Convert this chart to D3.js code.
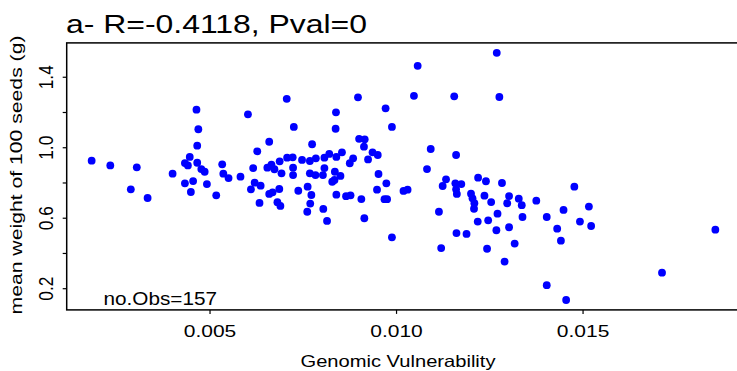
<!DOCTYPE html>
<html>
<head>
<meta charset="utf-8">
<script src="https://cdn.jsdelivr.net/npm/d3@7/dist/d3.min.js"></script>
<style>
  html, body { margin: 0; padding: 0; background: #fff; }
  svg { display: block; }
  text { font-family: "Liberation Sans", Arial, Helvetica, sans-serif; fill: #000; }
</style>
</head>
<body>
<svg id="chart" width="737" height="371"></svg>
<script>
// Genomic vulnerability (x) against mean weight of 100 seeds (y), one point per observation
const genomicVulnerability = [
  0.00184, 0.00234, 0.00305, 0.00289, 0.00334, 0.00401, 0.00465, 0.00470, 0.00467, 0.00447,
  0.00434, 0.00442, 0.00467, 0.00478, 0.00487, 0.00456, 0.00434, 0.00450, 0.00493, 0.00518,
  0.00534, 0.00537, 0.00551, 0.00583, 0.00603, 0.00628, 0.00617, 0.00621, 0.00611, 0.00634,
  0.00637, 0.00707, 0.00726, 0.00660, 0.00775, 0.00655, 0.00666, 0.00674, 0.00688, 0.00693,
  0.00708, 0.00723, 0.00724, 0.00724, 0.00687, 0.00660, 0.00669, 0.00682, 0.00690, 0.00738,
  0.00748, 0.00769, 0.00785, 0.00769, 0.00784, 0.00804, 0.00763, 0.00773, 0.00770, 0.00762,
  0.00805, 0.00815, 0.00808, 0.00808, 0.00821, 0.00840, 0.00855, 0.00839, 0.00838, 0.00836,
  0.00829, 0.00835, 0.00851, 0.00840, 0.00866, 0.00878, 0.00876, 0.00885, 0.00898, 0.00901,
  0.00916, 0.00914, 0.00925, 0.00937, 0.00951, 0.00907, 0.00915, 0.00953, 0.00949, 0.00974,
  0.00969, 0.00976, 0.00972, 0.00989, 0.00989, 0.01020, 0.01031, 0.01058, 0.01048, 0.01093,
  0.01083, 0.01134, 0.01125, 0.01115, 0.01121, 0.01270, 0.01156, 0.01277, 0.01161, 0.01159,
  0.01175, 0.01161, 0.01163, 0.01220, 0.01241, 0.01284, 0.01201, 0.01205, 0.01210, 0.01209,
  0.01237, 0.01255, 0.01303, 0.01298, 0.01329, 0.01337, 0.01376, 0.01272, 0.01219, 0.01247,
  0.01339, 0.01404, 0.01449, 0.01478, 0.01517, 0.01493, 0.01523, 0.01432, 0.01442, 0.01303,
  0.01269, 0.01162, 0.01189, 0.01318, 0.01244, 0.01291, 0.01404, 0.01456, 0.01856, 0.01713
];
const seedWeight = [
  0.924, 0.897, 0.886, 0.761, 0.712, 0.850, 1.213, 1.102, 1.009, 0.945,
  0.910, 0.897, 0.912, 0.876, 0.861, 0.808, 0.795, 0.746, 0.791, 0.727,
  0.903, 0.850, 0.825, 0.833, 1.187, 0.977, 0.882, 0.799, 0.761, 0.684,
  0.782, 1.275, 1.115, 1.031, 1.017, 0.884, 0.901, 0.875, 0.920, 0.852,
  0.941, 0.943, 0.884, 0.842, 0.763, 0.735, 0.744, 0.688, 0.667, 0.753,
  0.928, 0.922, 0.937, 0.852, 0.842, 0.842, 0.776, 0.729, 0.680, 0.634,
  0.650, 0.582, 0.882, 0.941, 0.962, 0.945, 0.971, 1.198, 1.105, 0.861,
  0.804, 0.814, 0.837, 0.731, 0.722, 0.727, 0.909, 0.937, 1.283, 1.048,
  1.045, 1.003, 0.931, 0.971, 0.956, 0.706, 0.597, 0.848, 0.759, 0.795,
  0.705, 0.705, 1.221, 1.115, 0.489, 0.752, 0.759, 1.462, 1.292, 0.990,
  0.876, 0.818, 0.780, 0.634, 0.428, 1.536, 1.289, 1.285, 0.956, 0.795,
  0.791, 0.761, 0.735, 0.827, 0.807, 0.797, 0.736, 0.710, 0.682, 0.651,
  0.725, 0.689, 0.723, 0.682, 0.708, 0.671, 0.697, 0.623, 0.578, 0.585,
  0.604, 0.604, 0.644, 0.776, 0.663, 0.578, 0.553, 0.538, 0.470, 0.546,
  0.529, 0.513, 0.508, 0.453, 0.424, 0.351, 0.217, 0.133, 0.532, 0.288
];
const xTickValues = [0.005, 0.010, 0.015];
const xTickLabels = ["0.005", "0.010", "0.015"];
const yTickValues = [0.2, 0.4, 0.6, 0.8, 1.0, 1.2, 1.4];
const yTickLabels = ["0.2", "", "0.6", "", "1.0", "", "1.4"];
const titleText = "a- R=-0.4118, Pval=0";
const xAxisTitle = "Genomic Vulnerability";
const yAxisTitle = "mean weight of 100 seeds (g)";
const countText = "no.Obs=157";

const points = genomicVulnerability.map((g, i) => ({ g, w: seedWeight[i] }));

// plot region (the frame runs past the right edge of the canvas)
const plot = { left: 66.7, right: 740.3, top: 42.9, bottom: 309.9 };

// data ranges padded by 4% on each side
function padded(values) {
  const [lo, hi] = d3.extent(values);
  const pad = (hi - lo) * 0.04;
  return [lo - pad, hi + pad];
}
const x = d3.scaleLinear().domain(padded(genomicVulnerability)).range([plot.left, plot.right]);
const y = d3.scaleLinear().domain(padded(seedWeight)).range([plot.bottom, plot.top]);

const svg = d3.select("#chart");

// points
svg.append("g")
  .selectAll("circle")
  .data(points)
  .join("circle")
  .attr("cx", d => x(d.g))
  .attr("cy", d => y(d.w))
  .attr("r", 3.9)
  .attr("fill", "#0000ff");

// frame
svg.append("rect")
  .attr("x", plot.left)
  .attr("y", plot.top)
  .attr("width", plot.right - plot.left)
  .attr("height", plot.bottom - plot.top)
  .attr("fill", "none")
  .attr("stroke", "#000")
  .attr("stroke-width", 1.5);

// x axis
const xAxis = svg.append("g")
  .attr("transform", `translate(0,${plot.bottom})`)
  .call(d3.axisBottom(x).tickValues(xTickValues).tickSize(4)
    .tickFormat((d, i) => xTickLabels[i]));
xAxis.select(".domain").remove();
xAxis.selectAll(".tick line").attr("stroke", "#000").attr("stroke-width", 1.2);
xAxis.selectAll(".tick text")
  .attr("y", 27.4).attr("dy", null)
  .attr("font-size", 17.2)
  .attr("textLength", 52.5)
  .attr("lengthAdjust", "spacingAndGlyphs")
  .attr("fill", "#000");

// y axis, labels turned to run along the axis
const yAxis = svg.append("g")
  .attr("transform", `translate(${plot.left},0)`)
  .call(d3.axisLeft(y).tickValues(yTickValues).tickSize(4)
    .tickFormat((d, i) => yTickLabels[i]));
yAxis.select(".domain").remove();
yAxis.selectAll(".tick line").attr("stroke", "#000").attr("stroke-width", 1.2);
yAxis.selectAll(".tick text")
  .attr("x", null).attr("dy", null)
  .attr("transform", "translate(-13.4,0) rotate(-90)")
  .attr("text-anchor", "middle")
  .attr("font-size", 19.5)
  .attr("textLength", 24)
  .attr("lengthAdjust", "spacingAndGlyphs")
  .attr("fill", "#000");

// title
svg.append("text")
  .attr("x", 66)
  .attr("y", 33.3)
  .attr("font-size", 25.5)
  .attr("textLength", 301)
  .attr("lengthAdjust", "spacingAndGlyphs")
  .text(titleText);

// axis titles
svg.append("text")
  .attr("x", 398)
  .attr("y", 366.5)
  .attr("text-anchor", "middle")
  .attr("font-size", 16.5)
  .attr("textLength", 195)
  .attr("lengthAdjust", "spacingAndGlyphs")
  .text(xAxisTitle);

svg.append("text")
  .attr("transform", "translate(22.4,175) rotate(-90)")
  .attr("text-anchor", "middle")
  .attr("font-size", 17)
  .attr("textLength", 279)
  .attr("lengthAdjust", "spacingAndGlyphs")
  .text(yAxisTitle);

// observation count
svg.append("text")
  .attr("x", 103.5)
  .attr("y", 305)
  .attr("font-size", 18.5)
  .attr("textLength", 113.5)
  .attr("lengthAdjust", "spacingAndGlyphs")
  .text(countText);
</script>
</body>
</html>
